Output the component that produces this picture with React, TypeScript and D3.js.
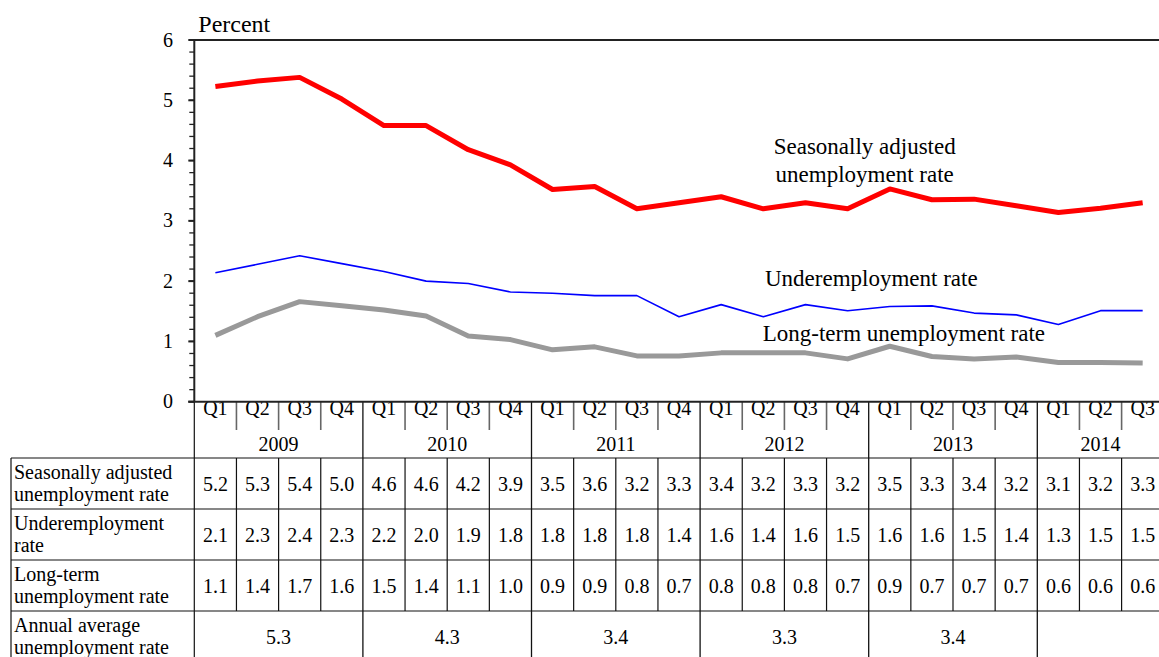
import React from "react";
import * as d3 from "d3";

const years = ["2009", "2010", "2011", "2012", "2013", "2014"];
const quartersPerYear = [4, 4, 4, 4, 4, 3];
const quarterNames = ["Q1", "Q2", "Q3", "Q4"];

// Series values
const seasonallyAdjusted = [
  5.23, 5.32, 5.38, 5.02, 4.58, 4.58, 4.18, 3.93, 3.52, 3.57, 3.2, 3.3,
  3.4, 3.2, 3.3, 3.2, 3.53, 3.35, 3.36, 3.25, 3.14, 3.21, 3.3,
];
const underemployment = [
  2.14, 2.28, 2.42, 2.29, 2.16, 2.0, 1.96, 1.82, 1.8, 1.76, 1.76, 1.41,
  1.61, 1.41, 1.61, 1.51, 1.58, 1.59, 1.47, 1.44, 1.28, 1.51, 1.51,
];
const longTerm = [
  1.1, 1.41, 1.66, 1.59, 1.52, 1.42, 1.09, 1.03, 0.86, 0.91, 0.76, 0.76,
  0.81, 0.81, 0.81, 0.71, 0.92, 0.75, 0.71, 0.74, 0.65, 0.65, 0.64,
];

// Table values as printed
const seasonallyAdjustedTable = [
  "5.2", "5.3", "5.4", "5.0", "4.6", "4.6", "4.2", "3.9", "3.5", "3.6", "3.2", "3.3",
  "3.4", "3.2", "3.3", "3.2", "3.5", "3.3", "3.4", "3.2", "3.1", "3.2", "3.3",
];
const underemploymentTable = [
  "2.1", "2.3", "2.4", "2.3", "2.2", "2.0", "1.9", "1.8", "1.8", "1.8", "1.8", "1.4",
  "1.6", "1.4", "1.6", "1.5", "1.6", "1.6", "1.5", "1.4", "1.3", "1.5", "1.5",
];
const longTermTable = [
  "1.1", "1.4", "1.7", "1.6", "1.5", "1.4", "1.1", "1.0", "0.9", "0.9", "0.8", "0.7",
  "0.8", "0.8", "0.8", "0.7", "0.9", "0.7", "0.7", "0.7", "0.6", "0.6", "0.6",
];
const annualAverage = ["5.3", "4.3", "3.4", "3.3", "3.4", ""];

const rowLabels = [
  ["Seasonally adjusted", "unemployment rate"],
  ["Underemployment", "rate"],
  ["Long-term", "unemployment rate"],
  ["Annual average", "unemployment rate"],
];

const yTicks = [0, 1, 2, 3, 4, 5, 6];
const yMinorTicks = d3.range(0, 30).map((i) => i * 0.2);

const W = 1159;
const H = 657;
const FONT = '"Liberation Serif", "Times New Roman", Times, serif';

export default function App() {
  const quarterKeys: string[] = [];
  const quarterLabels: string[] = [];
  years.forEach((y, yi) => {
    for (let q = 0; q < quartersPerYear[yi]; q++) {
      quarterKeys.push(`${y}-${q}`);
      quarterLabels.push(quarterNames[q]);
    }
  });
  const step = 42.15;
  const x0 = 194.3;
  const x = d3
    .scaleBand<string>()
    .domain(quarterKeys)
    .range([x0, x0 + step * quarterKeys.length])
    .paddingInner(0)
    .paddingOuter(0);
  const y = d3.scaleLinear().domain([0, 6]).range([401.7, 40]);
  const cx = (i: number) => (x(quarterKeys[i]) as number) + x.bandwidth() / 2;

  const line = d3
    .line<number>()
    .x((_, i) => cx(i))
    .y((d) => y(d));

  const yearSpans: { start: number; end: number; label: string; annual: string }[] = [];
  let idx = 0;
  years.forEach((yr, yi) => {
    const s = x(quarterKeys[idx]) as number;
    const e = s + x.bandwidth() * quartersPerYear[yi];
    yearSpans.push({ start: s, end: e, label: yr, annual: annualAverage[yi] });
    idx += quartersPerYear[yi];
  });
  const yearStartSet = new Set<number>();
  {
    let k = 0;
    quartersPerYear.forEach((n) => {
      yearStartSet.add(k);
      k += n;
    });
  }

  const axisY = y(0);
  const qRowBottom = 430;
  const tableTop = 458;
  const rowH = 51;
  const rowTops = [0, 1, 2, 3].map((i) => tableTop + i * rowH);
  const tableLeft = 11;
  const tableRows = [seasonallyAdjustedTable, underemploymentTable, longTermTable];

  return (
    <svg
      width={W}
      height={H}
      style={{ position: "absolute", left: 0, top: 0, background: "#fff", fontFamily: FONT }}
    >
      <rect x={0} y={0} width={W} height={H} fill="#fff" />
      <text x={198.3} y={31.7} fontSize={24} fill="#000">
        Percent
      </text>

      <line x1={x0} x2={W} y1={y(6)} y2={y(6)} stroke="#222" strokeWidth={2} />

      {yMinorTicks.map((t) => (
        <line key={"m" + t} x1={x0 - 5} x2={x0} y1={y(t)} y2={y(t)} stroke="#222" strokeWidth={1.3} />
      ))}
      {yTicks.map((t) => (
        <g key={"t" + t}>
          <line x1={x0 - 6} x2={x0} y1={y(t)} y2={y(t)} stroke="#222" strokeWidth={2} />
          <text x={173} y={y(t)} dy="0.33em" textAnchor="end" fontSize={20} fill="#000">
            {t}
          </text>
        </g>
      ))}

      <path d={line(longTerm) || ""} fill="none" stroke="#999999" strokeWidth={5} strokeLinejoin="round" />
      <path d={line(underemployment) || ""} fill="none" stroke="#0000ff" strokeWidth={1.6} strokeLinejoin="round" />
      <path d={line(seasonallyAdjusted) || ""} fill="none" stroke="#ff0000" strokeWidth={5} strokeLinejoin="round" />

      <text x={864.7} y={154} textAnchor="middle" fontSize={23} fill="#000">
        Seasonally adjusted
      </text>
      <text x={864.7} y={181.7} textAnchor="middle" fontSize={23} fill="#000">
        unemployment rate
      </text>
      <text x={765} y={286} fontSize={23} fill="#000">
        Underemployment rate
      </text>
      <text x={762.7} y={341} fontSize={23} fill="#000">
        Long-term unemployment rate
      </text>

      {quarterKeys.map((k, i) => (
        <text key={"q" + k} x={cx(i)} y={415} textAnchor="middle" fontSize={20} fill="#000">
          {quarterLabels[i]}
        </text>
      ))}
      {quarterKeys.map((k, i) =>
        i > 0 && !yearStartSet.has(i) ? (
          <line
            key={"qs" + k}
            x1={x(k) as number}
            x2={x(k) as number}
            y1={axisY}
            y2={qRowBottom}
            stroke="#666"
            strokeWidth={1.6}
          />
        ) : null
      )}
      {yearSpans.map((s) => (
        <text key={"y" + s.label} x={(s.start + s.end) / 2} y={450.7} textAnchor="middle" fontSize={20} fill="#000">
          {s.label}
        </text>
      ))}
      {yearSpans.map((s, i) =>
        i > 0 ? (
          <line key={"yb" + s.label} x1={s.start} x2={s.start} y1={axisY} y2={H} stroke="#111" strokeWidth={1.3} />
        ) : null
      )}

      {rowTops.map((t) => (
        <line key={"h" + t} x1={tableLeft} x2={W} y1={t} y2={t} stroke="#111" strokeWidth={1.2} />
      ))}
      <line x1={tableLeft} x2={tableLeft} y1={tableTop} y2={H} stroke="#111" strokeWidth={1.2} />
      <line x1={x0} x2={x0} y1={axisY} y2={H} stroke="#111" strokeWidth={1.2} />
      {quarterKeys.map((k, i) =>
        i > 0 && !yearStartSet.has(i) ? (
          <line
            key={"ds" + k}
            x1={x(k) as number}
            x2={x(k) as number}
            y1={tableTop}
            y2={rowTops[3]}
            stroke="#111"
            strokeWidth={1.2}
          />
        ) : null
      )}

      {rowLabels.map((lbl, r) => (
        <g key={"rl" + r}>
          <text x={14} y={rowTops[r] + 21} fontSize={20} fill="#000">
            {lbl[0]}
          </text>
          <text x={14} y={rowTops[r] + 43} fontSize={20} fill="#000">
            {lbl[1]}
          </text>
        </g>
      ))}
      {tableRows.map((row, r) =>
        row.map((v, i) => (
          <text
            key={"v" + r + "-" + i}
            x={cx(i)}
            y={rowTops[r] + rowH / 2}
            dy="0.35em"
            textAnchor="middle"
            fontSize={20}
            fill="#000"
          >
            {v}
          </text>
        ))
      )}
      {yearSpans.map((s) => (
        <text
          key={"a" + s.label}
          x={(s.start + s.end) / 2}
          y={rowTops[3] + rowH / 2}
          dy="0.35em"
          textAnchor="middle"
          fontSize={20}
          fill="#000"
        >
          {s.annual}
        </text>
      ))}

      <line x1={x0} x2={x0} y1={y(6) - 1} y2={axisY} stroke="#222" strokeWidth={2} />
      <line x1={x0 - 6} x2={W} y1={axisY} y2={axisY} stroke="#222" strokeWidth={2} />
    </svg>
  );
}
